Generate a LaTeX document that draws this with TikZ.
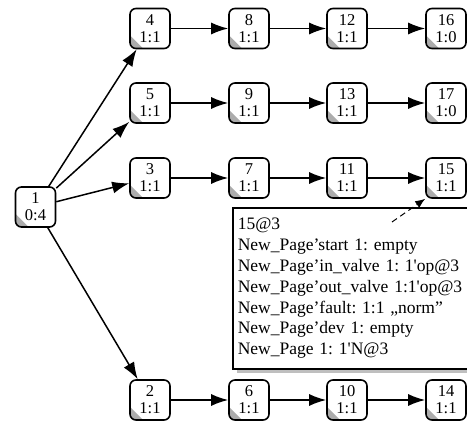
\documentclass[tikz,border=0pt]{standalone}
\usepackage{fontspec}
\setmainfont{Liberation Serif}
\usetikzlibrary{arrows.meta,shadows}
\frenchspacing

\tikzset{
  state/.style={draw, line width=1.6pt, rounded corners=6pt, fill=white,
    minimum width=40pt, minimum height=40pt, inner sep=0pt, align=center,
    font=\fontsize{16.5}{17}\selectfont,
    path picture={\fill[gray!65, sharp corners] ([yshift=13pt]path picture bounding box.south west)
      -- ([xshift=13pt]path picture bounding box.south west)
      -- (path picture bounding box.south west) -- cycle;}},
  flow/.style={line width=1.5pt, -{Latex[length=17pt,width=12pt]}},
  infobox/.style={draw, line width=1.6pt, fill=white, anchor=north west,
    minimum width=250pt, minimum height=161pt, text width=240pt,
    inner xsep=5pt, align=left, font=\fontsize{17.5}{20.8}\selectfont,
    drop shadow={shadow xshift=4pt, shadow yshift=-4pt, fill=gray!50, opacity=1}}
}

\begin{document}
\begin{tikzpicture}[x=1pt,y=1pt]
\useasboundingbox (0,0) rectangle (467,421);

% start state
\node[state] (n1) at (35.5,214) {1\\0:4};

% first row
\node[state] (n4) at (150,392.5) {4\\1:1};
\node[state] (n8) at (249,392.5) {8\\1:1};
\node[state] (n12) at (347,392.5) {12\\1:1};
\node[state] (n16) at (446,392.5) {16\\1:0};

% second row
\node[state] (n5) at (150,318) {5\\1:1};
\node[state] (n9) at (249,318) {9\\1:1};
\node[state] (n13) at (347,318) {13\\1:1};
\node[state] (n17) at (446,318) {17\\1:0};

% third row
\node[state] (n3) at (150,243) {3\\1:1};
\node[state] (n7) at (249,243) {7\\1:1};
\node[state] (n11) at (347,243) {11\\1:1};
\node[state] (n15) at (446,243) {15\\1:1};

% last row
\node[state] (n2) at (150,21) {2\\1:1};
\node[state] (n6) at (249,21) {6\\1:1};
\node[state] (n10) at (347,21) {10\\1:1};
\node[state] (n14) at (446,21) {14\\1:1};

\draw[flow] (n1) -- (n4);
\draw[flow] (n1) -- (n5);
\draw[flow] (n1) -- (n3);
\draw[flow] (n1) -- (n2);

\draw[flow] (n4) -- (n8);
\draw[flow] (n8) -- (n12);
\draw[flow] (n12) -- (n16);
\draw[flow] (n5) -- (n9);
\draw[flow] (n9) -- (n13);
\draw[flow] (n13) -- (n17);
\draw[flow] (n3) -- (n7);
\draw[flow] (n7) -- (n11);
\draw[flow] (n11) -- (n15);
\draw[flow] (n2) -- (n6);
\draw[flow] (n6) -- (n10);
\draw[flow] (n10) -- (n14);

% marking of state 15
\node[infobox] (info) at (232,214) {15@3\\
New\_Page’start 1: empty\\
New\_Page’in\_valve 1: 1\textquotesingle op@3\\
New\_Page’out\_valve 1:1\textquotesingle op@3\\
New\_Page’fault: 1:1 „norm”\\
New\_Page’dev 1: empty\\
New\_Page 1: 1\textquotesingle N@3};

\coordinate (tail) at (392,199);
\draw[dashed, line width=1pt, dash pattern=on 6pt off 4pt, -{Latex[length=10pt,width=8pt]}] (tail) -- (n15.south west);
\end{tikzpicture}
\end{document}
